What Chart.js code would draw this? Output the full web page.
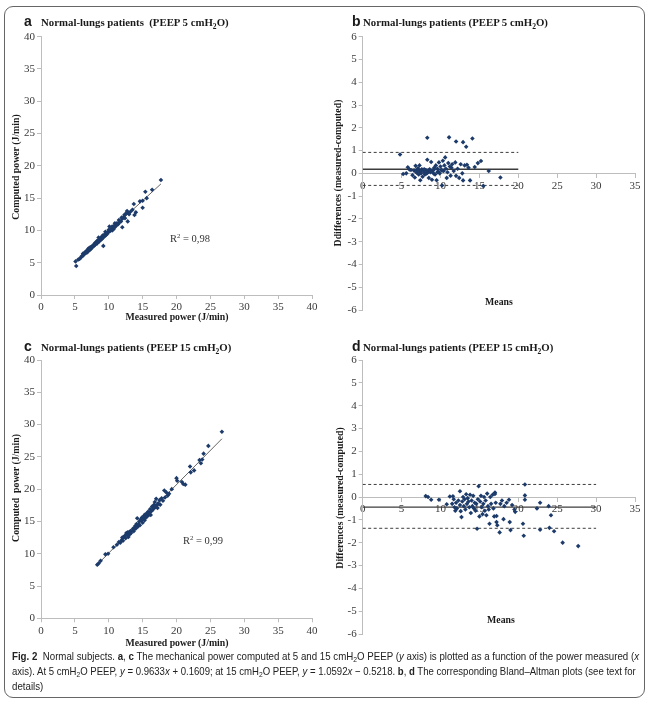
<!DOCTYPE html>
<html><head><meta charset="utf-8">
<script src="https://cdn.jsdelivr.net/npm/chart.js@4.4.1/dist/chart.umd.min.js"></script>
<style>
html,body{margin:0;padding:0;background:#fff;}
#page{position:relative;width:650px;height:704px;overflow:hidden;background:#fff;}
canvas.ch{position:absolute;left:0;top:0;}
.frame{position:absolute;left:4px;top:6px;width:639px;height:690px;border:1.5px solid #666;border-radius:9px;}
.t{position:absolute;white-space:nowrap;font-family:"Liberation Serif","Times New Roman",serif;color:#1a1a1a;line-height:1;}
.ttl{font-weight:bold;font-size:10.8px;transform:translateY(-50%);}
.let{font-family:"Liberation Sans",Arial,sans-serif;font-weight:bold;font-size:14px;transform:translateY(-50%);}
.ax{font-weight:bold;font-size:9.8px;transform:translate(-50%,-50%);}
.axv{font-weight:bold;font-size:9.8px;transform:translate(-50%,-50%) rotate(-90deg);}
.r2{font-size:10.5px;color:#333;transform:translateY(-50%);}
.sub{font-size:70%;position:relative;top:3px;}
.sup{font-size:65%;position:relative;top:-4px;}
.cap{position:absolute;left:12px;white-space:nowrap;font-family:"Liberation Sans",Arial,sans-serif;font-size:11.5px;color:#222;transform-origin:0 50%;line-height:1;}
.cap b{font-weight:bold;}
.cap .s{font-size:70%;position:relative;top:2px;}
</style></head>
<body>
<div id="page">
<div class="frame"></div>
<canvas class="ch" id="cA" width="650" height="704"></canvas>
<canvas class="ch" id="cB" width="650" height="704"></canvas>
<canvas class="ch" id="cC" width="650" height="704"></canvas>
<canvas class="ch" id="cD" width="650" height="704"></canvas>

<div class="t let" style="left:24px;top:21px">a</div>
<div class="t ttl" style="left:41px;top:22px">Normal-lungs patients&nbsp; (PEEP 5 cmH<span class="sub">2</span>O)</div>
<div class="t let" style="left:352px;top:21px">b</div>
<div class="t ttl" style="left:363px;top:22px">Normal-lungs patients (PEEP 5 cmH<span class="sub">2</span>O)</div>
<div class="t let" style="left:24px;top:346px">c</div>
<div class="t ttl" style="left:41px;top:347px">Normal-lungs patients (PEEP 15 cmH<span class="sub">2</span>O)</div>
<div class="t let" style="left:352px;top:346px">d</div>
<div class="t ttl" style="left:363px;top:347px">Normal-lungs patients (PEEP 15 cmH<span class="sub">2</span>O)</div>

<div class="t ax" style="left:177px;top:317px">Measured power (J/min)</div>
<div class="t axv" style="left:16px;top:167px">Computed power (J/min)</div>
<div class="t ax" style="left:177px;top:643px">Measured power (J/min)</div>
<div class="t axv" style="left:16px;top:488px">Computed&nbsp; power (J/min)</div>
<div class="t axv" style="left:338px;top:173px">Ddifferences (measured-computed)</div>
<div class="t axv" style="left:340px;top:498px">Differences (measured-computed)</div>
<div class="t ax" style="left:499px;top:302px">Means</div>
<div class="t ax" style="left:501px;top:620px">Means</div>

<div class="t r2" style="left:170px;top:239px">R<span class="sup">2</span> = 0,98</div>
<div class="t r2" style="left:183px;top:541px">R<span class="sup">2</span> = 0,99</div>

<div class="cap" id="cap1" style="top:657px"><b>Fig. 2</b>&nbsp; Normal subjects. <b>a</b>, <b>c</b> The mechanical power computed at 5 and 15 cmH<span class="s">2</span>O PEEP (<i>y</i> axis) is plotted as a function of the power measured (<i>x</i></div>
<div class="cap" id="cap2" style="top:672px">axis). At 5 cmH<span class="s">2</span>O PEEP, <i>y</i> = 0.9633<i>x</i> + 0.1609; at 15 cmH<span class="s">2</span>O PEEP, <i>y</i> = 1.0592<i>x</i> − 0.5218. <b>b</b>, <b>d</b> The corresponding Bland–Altman plots (see text for</div>
<div class="cap" id="cap3" style="top:687px">details)</div>
</div>

<script>
// ---------------- data ----------------
const scatterTicks = [0, 5, 10, 15, 20, 25, 30, 35, 40];
const baXTicks = [0, 5, 10, 15, 20, 25, 30, 35];
const baYTicks = [-6, -5, -4, -3, -2, -1, 0, 1, 2, 3, 4, 5, 6];

// Panel a: PEEP 5, measured vs computed (J/min)
const aMeasured = [5.1,5.2,5.5,5.7,5.9,6.0,6.2,6.2,6.3,6.4,6.5,6.6,6.7,6.8,6.9,7.0,7.0,7.1,7.2,7.2,7.3,7.3,7.4,7.5,7.6,7.7,7.8,7.9,8.0,8.0,8.1,8.2,8.3,8.3,8.4,8.5,8.5,8.6,8.7,8.8,8.9,9.0,9.0,9.1,9.2,9.2,9.3,9.4,9.5,9.5,9.6,9.7,9.8,9.9,10.0,10.0,10.1,10.2,10.3,10.4,10.5,10.5,10.6,10.7,10.8,10.9,10.9,11.0,11.1,11.2,11.3,11.4,11.5,11.5,11.6,11.8,11.9,12.0,12.0,12.2,12.3,12.4,12.5,12.7,12.8,12.9,13.0,13.2,13.5,13.7,13.8,14.0,14.6,15.0,15.0,15.4,15.6,16.4,17.7];
const aComputed = [5.2,4.5,5.5,5.6,5.8,6.0,6.1,6.4,6.4,6.3,6.6,6.5,6.8,6.6,7.0,7.2,6.8,7.0,7.3,7.0,7.1,7.4,7.2,7.5,7.4,7.7,7.6,7.9,7.8,8.1,7.9,8.2,8.0,8.4,8.2,8.5,8.9,8.3,8.6,8.8,8.6,9.0,8.7,9.2,7.6,8.9,9.3,9.1,9.4,9.8,9.3,9.6,9.5,9.8,9.8,10.1,10.6,9.9,10.1,10.3,10.0,10.6,10.4,10.2,10.7,10.5,11.1,11.0,10.8,11.1,10.9,11.0,11.2,11.6,11.3,11.4,12.0,10.5,11.8,12.0,12.4,11.9,12.6,13.0,11.4,12.7,12.5,12.9,13.2,14.1,12.4,12.8,14.5,14.6,13.5,16.0,15.0,16.3,17.8];
const aTrendX = [5.1, 17.7];
const aTrendY = [5.1, 17.2];

// Panel b: PEEP 5, Bland-Altman
const bMeans = [4.8,5.2,5.6,5.8,6.0,6.2,6.4,6.6,6.7,6.8,6.9,7.0,7.1,7.2,7.3,7.3,7.4,7.5,7.6,7.7,7.8,7.9,8.0,8.1,8.2,8.3,8.3,8.4,8.5,8.6,8.7,8.8,8.9,9.0,9.1,9.2,9.3,9.4,9.5,9.6,9.7,9.8,9.9,10.0,10.1,10.2,10.3,10.4,10.5,10.6,10.7,10.8,10.9,11.0,11.1,11.2,11.3,11.4,11.5,11.7,11.9,12.0,12.0,12.2,12.4,12.6,12.8,12.9,12.9,13.1,13.3,13.4,13.6,13.8,14.1,14.4,14.8,15.2,15.5,16.2,17.7,7.4,7.9,8.3,8.6,9.1,9.6,10.2,7.0,8.8];
const bDiffs = [0.83,-0.03,0.0,0.27,0.17,0.15,-0.08,0.12,-0.18,0.33,0.05,0.15,0.22,-0.05,0.35,0.1,-0.3,0.0,0.18,-0.15,0.12,0.05,-0.05,0.15,0.0,1.56,0.6,0.08,-0.2,0.18,0.05,0.5,-0.28,0.12,0.0,0.25,-0.05,0.35,-0.3,0.2,0.08,0.48,0.0,0.3,0.15,-0.53,0.55,0.1,0.35,0.7,0.2,-0.2,0.05,0.45,1.58,0.3,-0.1,0.25,0.4,0.1,0.48,1.4,-0.11,0.2,-0.2,0.4,0.0,1.37,-0.31,0.35,1.17,0.38,0.25,-0.31,1.53,0.28,0.45,0.54,-0.55,0.10,-0.18,0.08,0.18,0.02,0.1,0.15,0.05,0.12,0.02,0.1];
const bMeanDiff = 0.18, bUpperLoA = 0.92, bLowerLoA = -0.53, bLineEnd = 20;

// Panel c: PEEP 15, measured vs computed (J/min)
const cMeasured = [8.3,8.5,8.8,9.5,9.9,10.7,11.2,11.5,11.7,11.9,12.0,12.1,12.2,12.4,12.5,12.6,12.7,12.8,12.9,13.0,13.1,13.2,13.3,13.5,13.6,13.7,13.8,13.9,14.0,14.1,14.2,14.3,14.4,14.5,14.6,14.7,14.8,14.9,15.0,15.1,15.2,15.3,15.4,15.5,15.6,15.7,15.8,15.9,16.0,16.1,16.2,16.3,16.4,16.5,16.6,16.7,16.8,16.9,17.0,17.1,17.2,17.3,17.5,17.6,17.8,18.0,18.2,18.3,18.5,18.7,18.9,19.3,20.0,20.1,20.8,21.0,21.3,22.0,22.1,22.6,23.4,23.6,23.8,24.0,24.7,26.7];
const cComputed = [8.3,8.5,8.9,9.9,10.0,11.0,11.4,11.8,11.7,12.1,12.5,12.0,12.6,12.8,12.4,13.2,12.9,13.3,12.6,13.3,13.0,13.5,13.2,13.6,13.9,13.5,14.0,14.3,13.9,14.6,15.5,14.2,14.6,15.0,14.4,15.3,15.1,15.6,14.8,15.5,15.9,15.2,16.1,15.6,16.2,15.8,16.5,16.0,16.3,16.9,16.0,16.6,17.3,16.8,17.0,17.6,18.0,17.2,18.5,17.5,17.1,17.8,18.3,17.6,18.6,18.2,19.8,18.7,19.5,19.0,19.3,20.0,21.7,21.3,21.1,20.8,20.7,23.5,22.6,22.9,24.5,24.0,24.6,25.5,26.7,28.9];
const cTrendX = [8.3, 26.7];
const cTrendY = [8.3, 27.8];

// Panel d: PEEP 15, Bland-Altman
const dMeans = [8.1,8.4,8.8,9.8,10.8,11.2,11.5,11.6,11.7,11.8,11.9,12.0,12.1,12.3,12.5,12.5,12.6,12.7,12.8,12.9,13.0,13.1,13.2,13.3,13.4,13.5,13.6,13.7,13.8,13.9,14.0,14.1,14.2,14.3,14.4,14.5,14.6,14.7,14.8,14.9,15.0,15.1,15.2,15.3,15.4,15.5,15.6,15.7,15.8,15.9,16.0,16.1,16.2,16.3,16.4,16.5,16.7,16.8,16.9,17.0,17.0,17.1,17.2,17.2,17.3,17.6,17.7,17.9,18.1,18.2,18.5,18.8,18.9,19.0,19.2,19.5,19.6,20.6,20.7,20.85,20.85,20.85,22.4,22.8,22.8,23.9,24.0,24.2,24.6,25.7,27.7];
const dDiffs = [0.04,0.0,-0.12,-0.12,-0.32,0.02,-0.3,0.03,-0.1,-0.45,-0.6,-0.25,-0.5,-0.15,0.25,-0.35,-0.62,-0.88,-0.2,0.0,-0.4,-0.1,-0.55,0.12,-0.3,-0.05,-0.2,-0.45,0.1,-0.7,-0.15,-0.4,0.05,-0.5,-0.25,-0.6,-0.3,-1.39,-0.1,0.47,-0.85,-0.2,0.05,-0.45,-0.75,-0.3,0.0,-0.6,-0.15,-0.8,0.15,-0.4,-0.55,-1.17,0.0,-0.3,0.1,-0.5,-0.85,0.2,0.13,-0.25,-0.83,-1.1,-1.24,-1.55,-0.3,-0.15,-0.97,-0.4,-0.25,-0.12,-1.1,-1.45,-0.35,-0.55,-0.65,-1.17,-1.7,0.55,0.07,-0.12,-0.5,-0.25,-1.43,-0.4,-1.35,-0.8,-1.5,-2.0,-2.15];
const dMeanDiff = -0.44, dUpperLoA = 0.55, dLowerLoA = -1.37, dLineEnd = 30;

// ---------------- drawing ----------------
const POINT = '#1d3b6a';
const SERIF = '"Liberation Serif","Times New Roman",serif';
const zip = (xs, ys) => xs.map((x, i) => ({x, y: ys[i]}));
const pts = (xs, ys) => ({data: zip(xs, ys), pointStyle: 'rectRot', pointRadius: 2.3, backgroundColor: POINT, borderColor: POINT, borderWidth: 0, showLine: false});
const seg = (xs, ys, w, dash) => ({data: zip(xs, ys), showLine: true, pointRadius: 0, borderColor: '#3c3c3c', borderWidth: w, borderDash: dash || [], fill: false});

function axisOpts(ticks, extra) {
  return Object.assign({
    type: 'linear',
    min: ticks[0], max: ticks[ticks.length - 1],
    grid: {display: true, drawOnChartArea: false, drawTicks: true, tickLength: 4, color: '#bdbdbd', lineWidth: 1},
    border: {display: true, color: '#bdbdbd', width: 1},
    ticks: {font: {family: SERIF, size: 11}, color: '#3a3a3a', padding: 2, autoSkip: false, maxRotation: 0},
    afterBuildTicks: s => { s.ticks = ticks.map(v => ({value: v})); }
  }, extra);
}

function panel(id, area, datasets, xTicks, yTicks, cross) {
  const YW = 30, XH = 20;
  const xExtra = cross ? {position: {y: 0}} : {position: 'bottom', afterFit: s => { s.height = XH; }};
  new Chart(document.getElementById(id), {
    type: 'scatter',
    data: {datasets},
    options: {
      responsive: false, animation: false, events: [],
      layout: {padding: {left: area.l - YW, top: area.t, right: 650 - area.r, bottom: 704 - area.b - (cross ? 0 : XH)}},
      plugins: {legend: {display: false}, tooltip: {enabled: false}},
      scales: {
        x: axisOpts(xTicks, xExtra),
        y: axisOpts(yTicks, {afterFit: s => { s.width = YW; }})
      }
    }
  });
}

panel('cA', {l: 41, t: 36.7, r: 312, b: 295},
  [pts(aMeasured, aComputed), seg(aTrendX, aTrendY, 0.8)], scatterTicks, scatterTicks, false);

panel('cB', {l: 362.7, t: 36.7, r: 635, b: 310},
  [pts(bMeans, bDiffs),
   seg([0, bLineEnd], [bMeanDiff, bMeanDiff], 1.3),
   seg([0, bLineEnd], [bUpperLoA, bUpperLoA], 1, [3, 2.5]),
   seg([0, bLineEnd], [bLowerLoA, bLowerLoA], 1, [3, 2.5])], baXTicks, baYTicks, true);

panel('cC', {l: 41, t: 360, r: 312, b: 618.3},
  [pts(cMeasured, cComputed), seg(cTrendX, cTrendY, 0.8)], scatterTicks, scatterTicks, false);

panel('cD', {l: 362.7, t: 360, r: 635, b: 634},
  [pts(dMeans, dDiffs),
   seg([0, dLineEnd], [dMeanDiff, dMeanDiff], 1.3),
   seg([0, dLineEnd], [dUpperLoA, dUpperLoA], 1, [3, 2.5]),
   seg([0, dLineEnd], [dLowerLoA, dLowerLoA], 1, [3, 2.5])], baXTicks, baYTicks, true);

// caption lines fitted to their widths in the reference
(function () {
  const fit = (id, w) => { const el = document.getElementById(id); const k = w / el.scrollWidth; el.style.transform = 'translateY(-50%) scaleX(' + k + ')'; return k; };
  const k = fit('cap1', 627);
  fit('cap2', 624);
  document.getElementById('cap3').style.transform = 'translateY(-50%) scaleX(' + k + ')';
})();
</script>
</body></html>
